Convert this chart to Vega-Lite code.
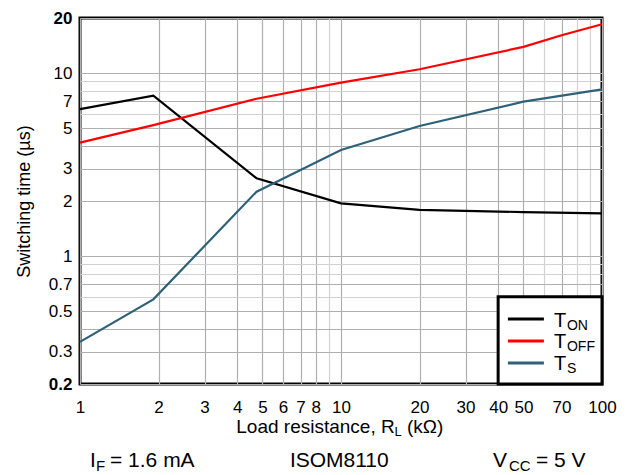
{
  "$schema": "https://vega.github.io/schema/vega-lite/v6.json",
  "width": 522,
  "height": 366,
  "autosize": "none",
  "padding": {"left": 80, "top": 18, "right": 29, "bottom": 91},
  "background": "white",
  "config": {
    "font": "Liberation Sans",
    "view": {"stroke": "black", "strokeWidth": 3},
    "axis": {"labelColor": "black", "titleColor": "black", "domain": false, "ticks": false, "labelFlush": false, "labelOverlap": false}
  },
  "datasets": {
    "lines": [
      {"series": "TON", "x": 1, "y": 6.36},
      {"series": "TON", "x": 1.91, "y": 7.52},
      {"series": "TON", "x": 4.75, "y": 2.66},
      {"series": "TON", "x": 10, "y": 1.94},
      {"series": "TON", "x": 20, "y": 1.79},
      {"series": "TON", "x": 50, "y": 1.74},
      {"series": "TON", "x": 100, "y": 1.71},
      {"series": "TOFF", "x": 1, "y": 4.17},
      {"series": "TOFF", "x": 1.91, "y": 5.2},
      {"series": "TOFF", "x": 4.75, "y": 7.24},
      {"series": "TOFF", "x": 10, "y": 8.87},
      {"series": "TOFF", "x": 20, "y": 10.5},
      {"series": "TOFF", "x": 50, "y": 13.9},
      {"series": "TOFF", "x": 70, "y": 16.1},
      {"series": "TOFF", "x": 100, "y": 18.5},
      {"series": "TS", "x": 1, "y": 0.34},
      {"series": "TS", "x": 1.91, "y": 0.58},
      {"series": "TS", "x": 4.75, "y": 2.25},
      {"series": "TS", "x": 10, "y": 3.8},
      {"series": "TS", "x": 20, "y": 5.14},
      {"series": "TS", "x": 50, "y": 6.98},
      {"series": "TS", "x": 100, "y": 8.15}
    ],
    "legendBox": [{"x": 40, "x2": 100, "y": 0.2, "y2": 0.6}],
    "legendLines": [
      {"series": "TON", "x": 43.6, "x2": 59.9, "y": 0.453},
      {"series": "TOFF", "x": 43.6, "x2": 59.9, "y": 0.3436},
      {"series": "TS", "x": 43.6, "x2": 59.9, "y": 0.2604}
    ],
    "bigText": [
      {"label": "T", "x": 65.5, "y": 0.4098},
      {"label": "T", "x": 65.5, "y": 0.3146},
      {"label": "T", "x": 65.5, "y": 0.2385}
    ],
    "noteText": [
      {"label": "I", "x": 1.092, "y": 0.0704},
      {"label": "= 1.6 mA", "x": 1.303, "y": 0.0704},
      {"label": "ISOM8110", "x": 6.37, "y": 0.0704},
      {"label": "V", "x": 38.23, "y": 0.0704},
      {"label": "= 5 V", "x": 55.86, "y": 0.0704}
    ],
    "noteSub": [
      {"label": "F", "x": 1.152, "y": 0.0673},
      {"label": "CC", "x": 44.0, "y": 0.0673}
    ],
    "smallText": [
      {"label": "ON", "x": 73.4, "y": 0.397},
      {"label": "OFF", "x": 73.4, "y": 0.303},
      {"label": "S", "x": 73.4, "y": 0.231}
    ],
    "titleText": [
      {"label": "Load resistance, R", "x": 3.97, "y": 0.108},
      {"label": "(kΩ)", "x": 17.9, "y": 0.108}
    ],
    "titleSub": [
      {"label": "L", "x": 16.03, "y": 0.1039}
    ]
  },
  "encoding": {
    "x": {
      "field": "x", "type": "quantitative",
      "scale": {"type": "log", "domain": [1, 100], "nice": false, "zero": false},
      "axis": {
        "title": null,
        "values": [1, 2, 3, 4, 5, 6, 7, 8, 9, 10, 20, 30, 40, 50, 60, 70, 80, 90, 100],
        "labelExpr": "indexof([1,2,3,4,5,6,7,8,10,20,30,40,50,70,100], datum.value) >= 0 ? format(datum.value, '~g') : ''",
        "labelFontSize": 17,
        "labelPadding": 15,
        "grid": true,
        "gridColor": {"condition": {"test": "indexof([9,60,80,90], datum.value) >= 0", "value": "#d2d2d2"}, "value": "#b0b0b0"},
        "gridWidth": 1.2
      }
    },
    "y": {
      "field": "y", "type": "quantitative",
      "scale": {"type": "log", "domain": [0.2, 20], "nice": false, "zero": false},
      "axis": {
        "title": "Switching time (µs)",
        "titleFontSize": 18,
        "titleFontWeight": "normal",
        "titlePadding": 15,
        "values": [0.2, 0.3, 0.4, 0.5, 0.6, 0.7, 0.8, 0.9, 1, 2, 3, 4, 5, 6, 7, 8, 9, 10, 20],
        "labelExpr": "indexof([0.2,0.3,0.5,0.7,1,2,3,5,7,10,20], datum.value) >= 0 ? format(datum.value, '~g') : ''",
        "labelFontSize": 17,
        "labelPadding": 8,
        "labelFontWeight": {"condition": {"test": "datum.value == 20 || datum.value == 0.2", "value": "bold"}, "value": "normal"},
        "grid": true,
        "gridColor": {"condition": {"test": "indexof([0.6,0.8,0.9,6,8,9], datum.value) >= 0", "value": "#d2d2d2"}, "value": "#b0b0b0"},
        "gridWidth": 1.2
      }
    }
  },
  "layer": [
    {
      "data": {"name": "lines"},
      "mark": {"type": "line", "strokeWidth": 2.2},
      "encoding": {
        "color": {"field": "series", "type": "nominal", "scale": {"domain": ["TON", "TOFF", "TS"], "range": ["#000000", "#ff0000", "#2f6178"]}, "legend": null},
        "detail": {"field": "series"}
      }
    },
    {
      "data": {"name": "legendBox"},
      "mark": {"type": "rect", "fill": "white", "stroke": "black", "strokeWidth": 3},
      "encoding": {"x2": {"field": "x2"}, "y2": {"field": "y2"}}
    },
    {
      "data": {"name": "legendLines"},
      "mark": {"type": "rule", "strokeWidth": 3},
      "encoding": {
        "x2": {"field": "x2"},
        "color": {"field": "series", "type": "nominal", "scale": {"domain": ["TON", "TOFF", "TS"], "range": ["#000000", "#ff0000", "#2f6178"]}, "legend": null}
      }
    },
    {
      "data": {"name": "bigText"},
      "mark": {"type": "text", "align": "left", "baseline": "alphabetic", "fontSize": 20, "color": "black"},
      "encoding": {"text": {"field": "label"}}
    },
    {
      "data": {"name": "smallText"},
      "mark": {"type": "text", "align": "left", "baseline": "alphabetic", "fontSize": 14, "color": "black"},
      "encoding": {"text": {"field": "label"}}
    },
    {
      "data": {"name": "noteText"},
      "mark": {"type": "text", "align": "left", "baseline": "alphabetic", "fontSize": 21, "color": "black"},
      "encoding": {"text": {"field": "label"}}
    },
    {
      "data": {"name": "noteSub"},
      "mark": {"type": "text", "align": "left", "baseline": "alphabetic", "fontSize": 15, "color": "black"},
      "encoding": {"text": {"field": "label"}}
    },
    {
      "data": {"name": "titleText"},
      "mark": {"type": "text", "align": "left", "baseline": "alphabetic", "fontSize": 19, "color": "black"},
      "encoding": {"text": {"field": "label"}}
    },
    {
      "data": {"name": "titleSub"},
      "mark": {"type": "text", "align": "left", "baseline": "alphabetic", "fontSize": 13, "color": "black"},
      "encoding": {"text": {"field": "label"}}
    }
  ]
}
